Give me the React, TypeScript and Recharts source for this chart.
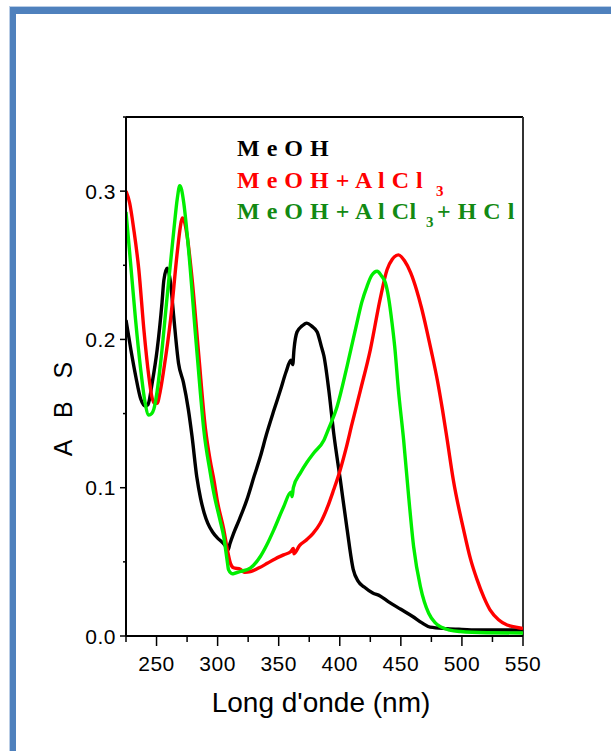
import React from "react";
import { LineChart, Line, XAxis, YAxis, ReferenceLine } from "recharts";

const xTicks = [225, 250, 275, 300, 325, 350, 375, 400, 425, 450, 475, 500, 525, 550];
const yTicks = [0, 0.05, 0.1, 0.15, 0.2, 0.25, 0.3, 0.35];

const meohNm = [225, 229, 233, 237, 241, 243, 246.5, 250.5, 254.5, 256, 258.7, 261.5, 264, 268, 272, 276, 279, 283, 286, 289, 292, 296, 300, 304, 307, 308.5, 310, 313, 318, 324, 330, 335, 340, 346, 351.5, 356, 360, 361.5, 362.5, 365, 369, 373, 377, 381.5, 385, 387, 391, 395, 400.5, 406, 411, 415, 420, 427, 433, 440, 450, 460, 467, 474, 488, 500, 515, 530, 550];
const meohAbs = [0.213, 0.193, 0.175, 0.16, 0.155, 0.156, 0.171, 0.193, 0.225, 0.24, 0.248, 0.238, 0.216, 0.184, 0.171, 0.153, 0.135, 0.107, 0.093, 0.083, 0.076, 0.07, 0.066, 0.063, 0.06, 0.058, 0.062, 0.069, 0.079, 0.092, 0.108, 0.121, 0.136, 0.152, 0.166, 0.178, 0.186, 0.183, 0.193, 0.205, 0.209, 0.211, 0.209, 0.205, 0.195, 0.189, 0.166, 0.137, 0.105, 0.072, 0.045, 0.037, 0.033, 0.029, 0.027, 0.023, 0.018, 0.013, 0.009, 0.006, 0.005, 0.0045, 0.004, 0.004, 0.004];

const alcl3Nm = [225, 228, 231.4, 235.5, 239.6, 243.7, 246, 248, 250.5, 253, 256, 261.5, 267, 269.5, 271, 273, 275, 279.2, 284.6, 290, 294, 297, 300, 305, 308, 310.5, 313, 318.7, 322, 327, 334, 340.6, 347, 354, 360, 362, 362.5, 367, 373, 378, 384, 390, 395, 400, 405, 410, 417, 425, 433, 438.7, 443, 448, 453, 458, 463, 467, 471, 475, 480, 484, 488, 493, 501.4, 507, 512.4, 518, 523, 530, 537, 544, 550];
const alcl3Abs = [0.3, 0.292, 0.274, 0.247, 0.207, 0.175, 0.162, 0.157, 0.157, 0.165, 0.18, 0.2135, 0.259, 0.276, 0.282, 0.279, 0.27, 0.24, 0.189, 0.14, 0.118, 0.105, 0.09, 0.072, 0.058, 0.049, 0.046, 0.045, 0.043, 0.0435, 0.046, 0.049, 0.052, 0.0547, 0.057, 0.059, 0.0555, 0.061, 0.065, 0.069, 0.076, 0.087, 0.0986, 0.111, 0.126, 0.143, 0.166, 0.193, 0.227, 0.247, 0.254, 0.257, 0.253, 0.245, 0.233, 0.221, 0.207, 0.192, 0.172, 0.153, 0.132, 0.105, 0.0716, 0.052, 0.038, 0.026, 0.0176, 0.011, 0.0074, 0.006, 0.005];

const hclNm = [225, 228.7, 232.8, 237, 240.5, 243.7, 246, 247.8, 250.5, 253.3, 258.7, 264.2, 267, 269, 270.5, 272.3, 276.4, 282, 286, 288.7, 294, 297, 302, 305, 307.8, 309, 312, 314.6, 318.7, 327, 335, 340, 346, 354, 360, 361, 362, 367.8, 373, 378.7, 387, 391, 397.9, 406, 414, 418, 422.4, 426, 430.6, 434, 437.4, 440, 442.8, 445, 448, 452.3, 456.4, 460.5, 466, 472.8, 478, 482.3, 490, 498.7, 520, 550];
const hclAbs = [0.286, 0.252, 0.2135, 0.18, 0.158, 0.149, 0.15, 0.153, 0.165, 0.184, 0.229, 0.274, 0.295, 0.3036, 0.301, 0.292, 0.259, 0.202, 0.163, 0.139, 0.11, 0.096, 0.078, 0.067, 0.051, 0.0446, 0.042, 0.0425, 0.0435, 0.046, 0.0536, 0.061, 0.0716, 0.087, 0.097, 0.094, 0.1, 0.11, 0.117, 0.1234, 0.132, 0.14, 0.155, 0.182, 0.211, 0.225, 0.236, 0.243, 0.246, 0.243, 0.238, 0.228, 0.211, 0.195, 0.166, 0.132, 0.094, 0.06, 0.0333, 0.0153, 0.009, 0.0063, 0.004, 0.003, 0.0022, 0.002];

const toRows = (nm: number[], abs: number[]) => nm.map((w, i) => ({ nm: w, abs: abs[i] }));
const meohData = toRows(meohNm, meohAbs);
const alcl3Data = toRows(alcl3Nm, alcl3Abs);
const hclData = toRows(hclNm, hclAbs);

const SANS = "'Liberation Sans', Arial, sans-serif";
const SERIF = "'Liberation Serif', 'Times New Roman', serif";

const XTick = (props: any) => {
  const { x, y, payload } = props;
  const v = payload.value;
  const major = v % 50 === 0;
  return (
    <g>
      <line x1={x} x2={x} y1={y} y2={y + (major ? 10 : 6)} stroke="#000" strokeWidth={1.5} />
      {major && (
        <text x={x} y={y + 35} textAnchor="middle" fontSize={21} letterSpacing={0.5} fontFamily={SANS} fill="#000">
          {v}
        </text>
      )}
    </g>
  );
};

const YTick = (props: any) => {
  const { x, y, payload } = props;
  const v = payload.value;
  const major = Math.abs(v * 10 - Math.round(v * 10)) < 1e-6 && v < 0.34;
  return (
    <g>
      <line x1={x - (major ? 6 : 3)} x2={x} y1={y} y2={y} stroke="#000" strokeWidth={1.5} />
      {major && (
        <text x={x - 10} y={y + 7.5} textAnchor="end" fontSize={21} letterSpacing={0.5} fontFamily={SANS} fill="#000">
          {v.toFixed(1)}
        </text>
      )}
    </g>
  );
};

export default function App() {
  return (
    <div style={{ position: "absolute", left: 0, top: 0, width: 611, height: 751, background: "#fff", overflow: "hidden" }}>
      <div style={{ position: "absolute", left: 10, top: 7, width: 700, height: 800, borderLeft: "6px solid #4f81bd", borderTop: "7px solid #4f81bd", boxShadow: "-1px -1px 0 #b9cde6" }} />
      <div style={{ position: "absolute", left: 0, top: 0 }}>
        <LineChart width={611} height={751} margin={{ top: 117, right: 88, left: 66, bottom: 65 }}>
          <XAxis
            type="number"
            dataKey="nm"
            domain={[225, 550]}
            ticks={xTicks}
            allowDataOverflow
            height={50}
            tickSize={0}
            tickMargin={0}
            tickLine={false}
            tick={<XTick />}
            axisLine={{ stroke: "#000", strokeWidth: 2 }}
            interval={0}
          />
          <YAxis
            type="number"
            dataKey="abs"
            domain={[0, 0.35]}
            ticks={yTicks}
            allowDataOverflow
            width={60}
            tickSize={0}
            tickMargin={0}
            tickLine={false}
            tick={<YTick />}
            axisLine={{ stroke: "#000", strokeWidth: 2 }}
            interval={0}
          />
          <ReferenceLine y={0.35} stroke="#000" strokeWidth={2} />
          <ReferenceLine x={550} stroke="#333" strokeWidth={2} />
          <Line data={meohData} dataKey="abs" type="monotone" stroke="#000000" strokeWidth={3.4} dot={false} isAnimationActive={false} />
          <Line data={alcl3Data} dataKey="abs" type="monotone" stroke="#ff0000" strokeWidth={3.4} dot={false} isAnimationActive={false} />
          <Line data={hclData} dataKey="abs" type="monotone" stroke="#00ee00" strokeWidth={3.4} dot={false} isAnimationActive={false} />
        </LineChart>
      </div>
      <svg width={611} height={751} style={{ position: "absolute", left: 0, top: 0, pointerEvents: "none" }}>
        <text x={237} y={156} fontFamily={SERIF} fontWeight="bold" fontSize={24} letterSpacing={0.5} fill="#000">M e O H</text>
        <text x={237} y={188} fontFamily={SERIF} fontWeight="bold" fontSize={24} letterSpacing={0.5} fill="#ff0000">M e O H + A l C l</text>
        <text x={436} y={196} fontFamily={SERIF} fontWeight="bold" fontSize={15} fill="#ff0000">3</text>
        <text x={237} y={219} fontFamily={SERIF} fontWeight="bold" fontSize={24} letterSpacing={0.5} fill="#138a13">M e O H + A l Cl</text>
        <text x={426} y={227} fontFamily={SERIF} fontWeight="bold" fontSize={15} fill="#138a13">3</text>
        <text x={437} y={219} fontFamily={SERIF} fontWeight="bold" fontSize={24} letterSpacing={0.5} fill="#138a13">+ H C l</text>
        <text x={321} y={712} textAnchor="middle" fontFamily={SANS} fontSize={28} fill="#000">Long d'onde (nm)</text>
        <text x={72} y={405} transform="rotate(-90 72 405)" textAnchor="middle" fontFamily={SANS} fontSize={25} letterSpacing={8} fill="#000">A B S</text>
      </svg>
    </div>
  );
}
